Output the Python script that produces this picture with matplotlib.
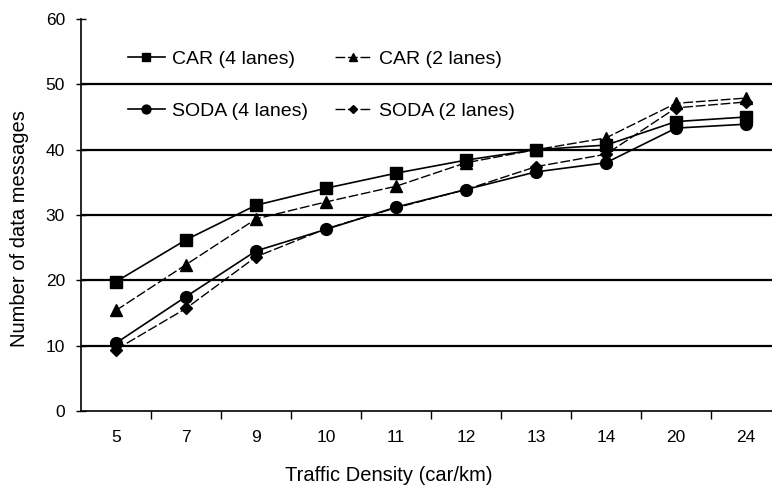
import numpy as np
import matplotlib.pyplot as plt

plt.rcParams['font.family'] = ['Liberation Sans', 'DejaVu Sans']

density = ['5', '7', '9', '10', '11', '12', '13', '14', '20', '24']
car_4 = [19.8, 26.2, 31.5, 34.1, 36.4, 38.4, 40.0, 40.7, 44.3, 45.0]
car_2 = [15.4, 22.4, 29.4, 32.0, 34.4, 38.0, 40.0, 41.8, 47.1, 47.9]
soda_4 = [10.4, 17.5, 24.5, 27.8, 31.2, 33.9, 36.6, 38.0, 43.3, 43.9]
soda_2 = [9.4, 15.7, 23.6, 27.9, 31.1, 33.9, 37.4, 39.3, 46.4, 47.3]

fig = plt.figure(figsize=(7.72, 4.86), dpi=100)
ax = fig.add_axes([81 / 772, 1 - 411 / 486, 700 / 772, 392 / 486])

x = np.arange(len(density))
l1, = ax.plot(x, car_4, color='black', lw=1.2, marker='s', ms=8.5, label='CAR (4 lanes)')
l2, = ax.plot(x, car_2, color='black', lw=1.0, ls=(0, (7, 2)), marker='^', ms=8, label='CAR (2 lanes)')
l3, = ax.plot(x, soda_4, color='black', lw=1.2, marker='o', ms=8.5, label='SODA (4 lanes)')
l4, = ax.plot(x, soda_2, color='black', lw=1.0, ls=(0, (7, 2)), marker='D', ms=6, label='SODA (2 lanes)')

ax.set_xlim(-0.5, len(density) - 0.5)
ax.set_ylim(0, 60)
ax.set_yticks(range(0, 61, 10))
for v in range(10, 60, 10):
    ax.axhline(v, color='black', lw=1.6, zorder=0)

ax.set_xticks(x)
ax.set_xticklabels(density)
ax.set_xticks(np.arange(0.5, len(density) - 1, 1), minor=True)
ax.tick_params(axis='x', which='major', length=0, pad=14, labelsize=12.5)
ax.tick_params(axis='x', which='minor', length=6, width=1, direction='out')
ax.tick_params(axis='y', length=7, width=1, direction='inout', pad=8, labelsize=12.5)

for s in ['top', 'right']:
    ax.spines[s].set_visible(False)
ax.spines['left'].set_linewidth(1.2)
ax.spines['bottom'].set_linewidth(1.2)

fig.text(389 / 772, 1 - 475 / 486, 'Traffic Density (car/km)', fontsize=14.5,
         ha='center', va='center')
fig.text(20 / 772, 1 - 229 / 486, 'Number of data messages', fontsize=14.5,
         ha='center', va='center', rotation=90)

# row order like the original: CAR 4 | CAR 2 / SODA 4 | SODA 2
ax.legend([l1, l3, l2, l4], [l1.get_label(), l3.get_label(), l2.get_label(), l4.get_label()],
          ncol=2, frameon=False, fontsize=14, loc='upper left', borderpad=0,
          bbox_to_anchor=(0.053, 0.945), handlelength=1.9, handletextpad=0.36,
          columnspacing=1.4, labelspacing=1.75, markerscale=0.75)

fig.savefig('out.png', dpi=100)
